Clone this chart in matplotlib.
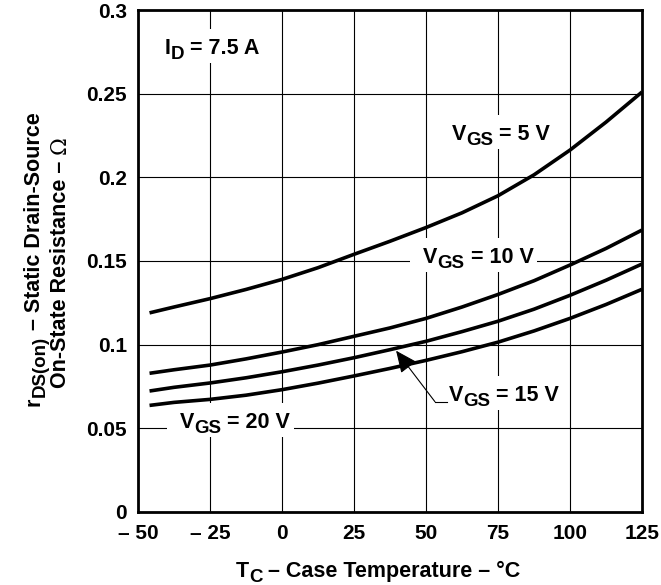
import matplotlib
matplotlib.use('Agg')
import numpy as np
import matplotlib.pyplot as plt
from matplotlib.transforms import offset_copy, IdentityTransform
from matplotlib.patches import Rectangle

# case temperature (deg C) and rDS(on) (ohm)
temp = [-46, -37.5, -25, -12.5, 0, 12.5, 25, 37.5, 50, 62.5, 75, 87.5, 100, 112.5, 125]
r_vgs5 = [0.119, 0.1225, 0.1275, 0.133, 0.139, 0.146, 0.154, 0.1618, 0.170, 0.1788,
          0.189, 0.2015, 0.2163, 0.233, 0.251]
r_vgs10 = [0.0829, 0.085, 0.0878, 0.0915, 0.0956, 0.1, 0.105, 0.11, 0.1157, 0.1225,
           0.13, 0.1382, 0.1476, 0.1575, 0.1685]
r_vgs15 = [0.0723, 0.0745, 0.0771, 0.0802, 0.0838, 0.0878, 0.0922, 0.097, 0.102, 0.1078,
           0.114, 0.1212, 0.1295, 0.1385, 0.1482]
r_vgs20 = [0.0637, 0.0655, 0.0673, 0.0698, 0.0731, 0.077, 0.0813, 0.0858, 0.0906, 0.0958,
           0.1015, 0.1082, 0.1157, 0.124, 0.1331]

x_ticks = [-50, -25, 0, 25, 50, 75, 100, 125]
x_tick_labels = ['\u2013 50', '\u2013 25', '0', '25', '50', '75', '100', '125']
y_ticks = [0, 0.05, 0.1, 0.15, 0.2, 0.25, 0.3]
y_tick_labels = ['0', '0.05', '0.1', '0.15', '0.2', '0.25', '0.3']

plt.rcParams['font.family'] = ['Liberation Sans', 'DejaVu Sans']
plt.rcParams['font.weight'] = 'bold'

MAIN = 15.5
SUB = 13.5
DROP = 5  # subscript drop, px

fig = plt.figure(figsize=(6.61, 5.85), dpi=100)
ax = fig.add_axes([0.2088, 0.1248, 0.9713 - 0.2088, 0.9829 - 0.1248])

for r in (r_vgs5, r_vgs10, r_vgs15, r_vgs20):
    ax.plot(temp, r, color='black', lw=2.6, zorder=3, solid_capstyle='butt')

ax.set_xlim(-50, 125)
ax.set_ylim(0, 0.3)
ax.set_xticks(x_ticks)
ax.set_xticklabels(x_tick_labels)
ax.set_yticks(y_ticks)
ax.set_yticklabels(y_tick_labels)
ax.tick_params(length=0, labelsize=15)
ax.tick_params(axis='x', pad=8.5)
ax.tick_params(axis='y', pad=8)
ax.grid(True, color='black', lw=0.8)
ax.set_axisbelow(True)
for s in ax.spines.values():
    s.set_linewidth(2.0)

renderer = fig.canvas.get_renderer()


def style(kind):
    if kind == 'sub':
        return dict(fontsize=SUB, fontweight='bold')
    if kind == 'sym':
        return dict(fontsize=MAIN, fontweight='normal', family='DejaVu Serif')
    return dict(fontsize=MAIN, fontweight='bold')


def advance(s, kw):
    # width of s including spaces, using bars as end markers
    t1 = fig.text(0, 0, '|' + s + '|', **kw)
    t2 = fig.text(0, 0, '||', **kw)
    w = t1.get_window_extent(renderer).width - t2.get_window_extent(renderer).width
    t1.remove()
    t2.remove()
    return w


def rich(host, x, y, parts, trans, rotation=0, ha='left', box=None):
    pieces = []
    for s, kind in parts:
        kw = style(kind)
        lead = s[:len(s) - len(s.lstrip())]
        pieces.append((s.lstrip(), kind, kw, advance(lead, kw) if lead else 0, advance(s.lstrip(), kw)))
    total = sum(p[3] + p[4] for p in pieces)
    start = 0 if ha == 'left' else -total / 2
    a = np.deg2rad(rotation)
    ux, uy = np.cos(a), np.sin(a)
    dx, dy = np.sin(a), -np.cos(a)
    if box is not None:
        lpad, rpad, top, bot = box
        px, py = trans.transform((x, y))
        host.add_patch(Rectangle((px + start - lpad, py - bot), total + lpad + rpad, top + bot,
                                 transform=IdentityTransform(), facecolor='white',
                                 edgecolor='none', zorder=2))
    pos = start
    for s, kind, kw, lead_w, w in pieces:
        pos += lead_w
        drop = DROP if kind == 'sub' else 0
        ox = pos * ux + drop * dx
        oy = pos * uy + drop * dy
        host.text(x, y, s, transform=offset_copy(trans, fig=fig, x=ox, y=oy, units='dots'),
                  rotation=rotation, rotation_mode='anchor', ha='left', va='baseline',
                  zorder=4, **kw)
        pos += w


box = (13, 4, 25, 9)
rich(ax, -40.6, 0.2737, [('I', 'main'), ('D', 'sub'), (' = 7.5 A', 'main')], ax.transData, box=box)
rich(ax, 58.9, 0.2223, [('V', 'main'), ('GS', 'sub'), (' = 5 V', 'main')], ax.transData, box=box)
rich(ax, 49.0, 0.1488, [('V', 'main'), ('GS', 'sub'), (' = 10 V', 'main')], ax.transData, box=box)
rich(ax, 58.0, 0.0665, [('V', 'main'), ('GS', 'sub'), (' = 15 V', 'main')], ax.transData, box=box)
rich(ax, -35.4, 0.0502, [('V', 'main'), ('GS', 'sub'), (' = 20 V', 'main')], ax.transData, box=box)

# leader for VGS = 15 V
ax.plot([53.1, 57.2], [0.0659, 0.0659], color='black', lw=0.8, zorder=4)
ax.annotate('', xy=(39.6, 0.0964), xytext=(53.1, 0.0659),
            arrowprops=dict(arrowstyle='-|>,head_length=0.9,head_width=0.4',
                            color='black', lw=0.8, mutation_scale=15,
                            shrinkA=0, shrinkB=0), zorder=4)

# axis titles
rich(fig, 0.572, 0.0137, [('T', 'main'), ('C', 'sub'), (' \u2013 Case Temperature \u2013 \u00b0C', 'main')],
     fig.transFigure, ha='center')
rich(fig, 0.0605, 0.557, [('r', 'main'), ('DS(on)', 'sub'), (' \u2013 Static Drain-Source', 'main')],
     fig.transFigure, rotation=90, ha='center')
rich(fig, 0.0998, 0.552, [('On-State Resistance \u2013', 'main'), (' \u03a9', 'sym')],
     fig.transFigure, rotation=90, ha='center')

fig.savefig('out.png', dpi=100)
